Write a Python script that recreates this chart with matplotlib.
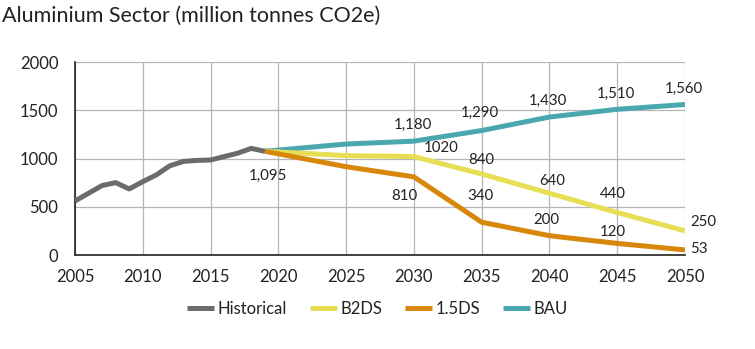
import matplotlib
matplotlib.use("Agg")
import matplotlib.pyplot as plt

plt.rcParams['font.family'] = ['Lato', 'DejaVu Sans']

hist_years = [2005, 2006, 2007, 2008, 2009, 2010, 2011, 2012, 2013, 2014, 2015, 2016, 2017, 2018, 2019]
hist_vals = [560, 640, 720, 750, 685, 760, 830, 925, 970, 980, 985, 1020, 1055, 1105, 1075]

proj_years = [2019, 2025, 2030, 2035, 2040, 2045, 2050]
bau_vals = [1075, 1150, 1180, 1290, 1430, 1510, 1560]
b2ds_vals = [1075, 1030, 1020, 840, 640, 440, 250]
ds15_vals = [1075, 915, 810, 340, 200, 120, 53]

# label texts with anchor positions (year, value)
bau_labels = [("1,180", 2029.9, 1347), ("1,290", 2034.9, 1471), ("1,430", 2039.9, 1599),
              ("1,510", 2044.9, 1668), ("1,560", 2049.9, 1720)]
b2ds_labels = [("1020", 2032.0, 1112), ("840", 2035.0, 984), ("640", 2040.2, 770),
               ("440", 2044.7, 632)]
ds15_labels = [("810", 2029.3, 611), ("340", 2034.9, 611), ("200", 2039.8, 363),
               ("120", 2044.7, 241)]
start_label = ("1,095", 2019.2, 822)

c_hist = "#6b6b6b"
c_b2ds = "#e6df55"
c_15 = "#d7870a"
c_bau = "#4aa7ad"

fig = plt.figure(figsize=(7.55, 3.49), dpi=100)
ax = fig.add_axes([0.0993, 0.2693, 0.8080, 0.553])

lw = 3.6
ax.plot(proj_years, bau_vals, color=c_bau, lw=lw, solid_capstyle='butt', zorder=3, label="BAU")
ax.plot(proj_years, b2ds_vals, color=c_b2ds, lw=lw, solid_capstyle='butt', zorder=4, label="B2DS")
ax.plot(proj_years, ds15_vals, color=c_15, lw=lw, solid_capstyle='butt', zorder=5, label="1.5DS")
ax.plot(hist_years, hist_vals, color=c_hist, lw=lw, solid_capstyle='butt', zorder=6, label="Historical")

fs = 10.8
tc = "#222222"
for t, x, y in bau_labels + b2ds_labels + ds15_labels + [start_label]:
    ax.text(x, y, t, ha='center', va='center', fontsize=fs, color=tc)
ax.text(2050.4, 345, "250", ha='left', va='center', fontsize=fs, color=tc)
ax.text(2050.4, 59, "53", ha='left', va='center', fontsize=fs, color=tc)

ax.set_xlim(2005, 2050)
ax.set_ylim(0, 2000)
ax.set_xticks(range(2005, 2051, 5))
ax.set_yticks(range(0, 2001, 500))
ax.grid(True, color="#b5b5b5", lw=0.9)
ax.set_axisbelow(True)
for s in ['top', 'right']:
    ax.spines[s].set_visible(False)
ax.spines['left'].set_color('#222222')
ax.spines['bottom'].set_color('#222222')
ax.spines['left'].set_linewidth(1.2)
ax.spines['bottom'].set_linewidth(1.2)
ax.tick_params(length=0, labelsize=12, colors=tc, pad=10)
ax.tick_params(axis='y', pad=12)

handles, labels = ax.get_legend_handles_labels()
order = [3, 1, 2, 0]
fig.legend([handles[i] for i in order], [labels[i] for i in order],
           loc='center', bbox_to_anchor=(0.5, 0.115), ncol=4, frameon=False,
           fontsize=12, handlelength=1.6, handletextpad=0.2, columnspacing=1.4,
           labelcolor=tc)

fig.text(0.002, 0.955, "Aluminium Sector (million tonnes CO2e)", fontsize=15.5,
         ha='left', va='center', color=tc)

fig.savefig("out.png", dpi=100)
